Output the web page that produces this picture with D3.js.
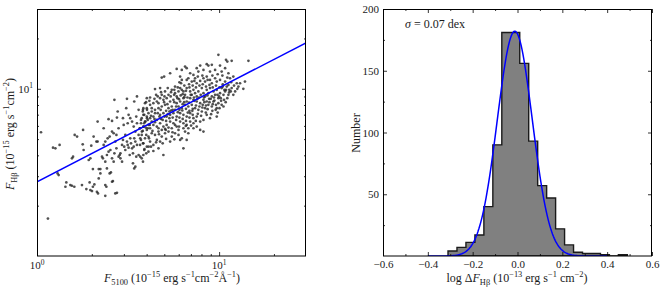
<!DOCTYPE html>
<html><head><meta charset="utf-8">
<script src="https://cdn.jsdelivr.net/npm/d3@7"></script>
<style>
body{margin:0;background:#fff}
text{font-family:"Liberation Serif","DejaVu Serif",serif;fill:#1a1a1a}
</style>
</head><body><svg id="c" width="664" height="290"></svg>
<script>
// ---------- Left panel: scatter (values in dex, log10 of flux) ----------
const logF5100 = [
.022,.060,.088,.101,.124,.192,.198,.113,.119,.161,
.156,.183,.192,.205,.220,.207,.253,.251,.256,.247,
.271,.289,.293,.302,.307,.315,.329,.335,.298,.311,
.326,.333,.284,.293,.307,.339,.348,.339,.348,.333,
.366,.375,.381,.375,.384,.399,.406,.412,.417,.393,
.412,.425,.439,.443,.448,.357,.362,.375,.384,.393,
.403,.412,.421,.425,.430,.436,.366,.375,.388,.399,
.412,.421,.436,.430,.439,.448,.454,.458,.458,.467,
.467,.472,.472,.476,.485,.490,.494,.498,.479,.485,
.494,.498,.503,.509,.512,.516,.522,.527,.531,.534,
.540,.545,.549,.503,.512,.522,.531,.534,.540,.545,
.549,.527,.540,.534,.558,.558,.564,.567,.571,.576,
.582,.586,.589,.595,.600,.604,.608,.613,.615,.619,
.558,.567,.582,.589,.600,.549,.582,.604,
.996,1.038,1.045,1.069,1.161,.932,.941,.960,1.005,.896,
.877,.813,.822,.767,.795,.685,.698,.731,.841,.859,
.886,.914,.950,.978,1.014,1.033,1.051,1.060,1.078,1.115,
1.133,1.142,1.097,1.106,1.069,1.078,1.088,.786,.795,.782,
.822,.831,.850,.868,.877,.896,.914,.923,.932,.950,
.960,.978,.987,1.005,1.020,1.033,1.042,1.051,.648,.621,
.603,.593,.584,.676,.703,.722,.740,.758,.767,.786,
.795,.804,.813,.822,.841,.850,.859,.868,.877,.886,
.905,.914,.923,.932,.941,.950,.960,.969,.978,.987,
.996,1.005,1.014,1.024,1.033,1.014,.987,.996,.969,.960,
.941,.932,.914,.896,.877,.859,.841,.822,.804,.786,
.767,.749,.731,.712,.694,.676,.658,.639,.621,.603,
.612,.630,.648,.667,.685,.703,.722,.740,.758,.777,
.795,.813,.831,.850,.868,.886,.905,.923,.584,.575,
.593,.621,.639,.658,.676,.694,.712,.731,.749,.767,
.786,.804,.822,.841,.859,.877,.896,.914,.932,.950,
.566,.584,.603,.621,.639,.658,.676,.694,.712,.731,
.749,.767,.786,.804,.822,.841,.859,.877,.896,.575,
.593,.612,.630,.648,.667,.685,.703,.722,.740,.758,
.777,.795,.813,.566,.584,.603,.621,.639,.658,.676,
.690,.731,.786,.575,.584,.612,.639,.667,.694,.804,
.831,.914,.987,1.024,1.051,
.758,.777,.800,.818,.837,.855,.873,.892,.910,.928,
.947,.965,.983,1.002,1.020,1.038,1.056,.771,.789,.808,
.826,.844,.862,.881,.899,.917,.936,.954,.972,.991,
1.009,1.027,1.045,.764,.782,.800,.818,.837,.855,.873,
.892,.910,.928,.947,.965,.983,1.002,.685,.698,.716,
.734,.753,.654,.667,.679,.709,.727,.745,.630,.648,
.672,.690,.709,.727,.745,.764,.782,.800,.818,.837,
.855,.603,.588,.612,.630,.648,.667,.685,.703,.722,
.740,.758,.777,.804,.831,.859,
.754,.780,.809,.835,.864,.890,.919,.945,.974,1.000,
1.029,1.055,.773,.798,.828,.853,.883,.908,.937,.963,
.992,.718,.736,.681,.700,.663,.645,.626,.608,.597,
.634,.670,.707,.744,.780,.817,.846,.872,.901,.927,
.956,.981,1.011,1.036,1.064,1.082,1.100,1.066,1.045,1.018,
.992,.963,.937,.908,.883,.864,.835,.809,.791,.773,
.754,.736,.718,.700,.681,.663,.645,.617,.599,.581,
.571,.581,.571,.590,.626,.654,.709,.754,.822
];
const logFHb = [
.740,.224,.648,.644,.664,.584,.594,.494,.484,.440,
.414,.424,.420,.414,.714,.724,.754,.668,.634,.424,
.400,.440,.394,.388,.414,.428,.384,.374,.660,.714,
.684,.684,.574,.584,.520,.520,.520,.464,.494,.804,
.764,.424,.414,.360,.524,.494,.500,.444,.448,.818,
.808,.934,.828,.864,.764,.594,.584,.564,.604,.624,
.634,.584,.564,.614,.684,.644,.664,.684,.704,.714,
.744,.734,.724,.374,.378,.594,.604,.614,.584,.664,
.564,.694,.824,.784,.724,.884,.940,.794,.654,.634,
.684,.664,.648,.604,.704,.674,.644,.614,.654,.704,
.684,.594,.664,.844,.824,.804,.774,.924,.744,.834,
.794,.554,.534,.524,.874,.724,.764,.704,.814,.744,
.674,.774,.844,.804,.724,.824,.764,.654,.704,.784,
.604,.594,.564,.634,.614,.954,.874,.874,
1.203,1.173,1.163,1.167,1.167,1.147,1.139,1.143,1.139,1.139,
1.123,1.133,1.123,1.119,1.113,1.067,1.073,1.093,1.093,1.083,
1.103,1.113,1.103,1.113,1.103,1.123,1.093,1.063,1.073,1.033,
1.000,1.043,1.033,1.013,1.004,.964,.984,1.073,1.053,1.039,
1.053,1.063,1.043,1.063,1.033,1.047,1.063,1.043,1.073,1.053,
1.033,1.063,1.043,1.053,1.027,1.043,1.013,1.023,.998,.948,
.944,.914,.884,1.004,.984,.964,.994,.974,.954,1.004,
.994,.984,.964,1.004,.984,.964,.994,.974,.954,.984,
1.004,.974,.954,.994,.974,1.004,.954,.984,.964,.994,
.944,.974,1.004,.964,.984,.904,.884,.914,.924,.894,
.904,.924,.934,.914,.924,.934,.944,.924,.944,.924,
.914,.934,.924,.944,.934,.944,.924,.914,.904,.884,
.854,.864,.874,.884,.894,.904,.884,.894,.874,.894,
.884,.904,.894,.904,.884,.874,.864,.884,.844,.824,
.804,.824,.834,.814,.844,.854,.834,.844,.854,.834,
.854,.844,.834,.854,.824,.834,.804,.814,.844,.824,
.764,.774,.754,.764,.784,.774,.794,.774,.784,.804,
.794,.774,.804,.794,.784,.804,.794,.774,.754,.724,
.704,.714,.734,.724,.744,.714,.734,.744,.714,.734,
.724,.704,.744,.664,.674,.654,.684,.664,.694,.684,
.674,.684,.694,.584,.604,.624,.628,.644,.604,.644,
.734,.744,.834,.894,.964,
1.013,.984,.968,.988,1.008,1.019,1.008,1.019,1.027,1.013,
1.023,1.008,1.019,1.008,1.013,.994,.994,.944,.960,.920,
.948,.964,.948,.940,.964,.948,.960,.940,.948,.964,
.944,.934,.944,.894,.874,.908,.880,.868,.880,.900,
.894,.904,.900,.920,.908,.904,.884,.964,.920,.908,
.954,.964,.964,.914,.874,.868,.864,.874,.884,.854,
.834,.814,.808,.824,.828,.814,.828,.820,.808,.828,
.844,.834,.794,.784,.804,.800,.764,.754,.760,.768,
.764,.784,.754,.764,.764,.764,
.920,.938,.950,.918,.928,.948,.920,.940,.930,.954,
.993,.978,.860,.870,.858,.868,.850,.888,.878,.868,
.858,.848,.870,.820,.834,.854,.820,.838,.814,.768,
.748,.728,.754,.740,.774,.778,.780,.808,.838,.858,
.848,.874,.928,.920,.984,1.019,1.000,1.039,1.067,1.079,
1.087,1.079,1.053,1.079,1.073,1.047,1.027,1.019,1.033,1.008,
.994,.980,1.004,.954,.980,.954,.940,.928,.920,.864,
.794,.748,.694,.640,.654,.680,.700,.698,.694
];
const fitIntercept = 0.443;   // log F_Hb at F5100 = 1
const fitSlope = 0.563;
const logMajor = [1, 10];
const logMinor = [2,3,4,5,6,7,8,9,20];

// ---------- Right panel: histogram ----------
const binEdges = [-0.31,-0.27,-0.23,-0.19,-0.15,-0.11,-0.07,-0.03,0.01,0.05,0.09,0.13,0.17,0.21,0.25,0.29,0.33,0.37,0.41,0.45,0.49];
const binCounts = [4,7,11,17,40,90,181,181,156,93,57,47,22,9,3,2,2,1,0,1];
const gaussMu = -0.012, gaussSigma = 0.078, gaussAmp = 182;
const gaussRange = [-0.4, 0.4];
const histXMajor = [-0.6,-0.4,-0.2,0.0,0.2,0.4,0.6];
const histXMinor = [-0.5,-0.3,-0.1,0.1,0.3,0.5];
const histYMajor = [50,100,150,200];
const histYMinor = [25,75,125,175];
const sigmaLabel = "0.07 dex";

const svg = d3.select("#c");
const L = {x0:37, x1:306, y0:9, y1:256};
const R = {x0:383, x1:652, y0:9, y1:256};

const xL = d3.scaleLog().domain([1,30]).range([L.x0,L.x1]);
const yL = d3.scaleLog().domain([1,30]).range([L.y1,L.y0]);
const xR = d3.scaleLinear().domain([-0.6,0.6]).range([R.x0,R.x1]);
const yR = d3.scaleLinear().domain([0,200]).range([R.y1,R.y0]);

function rich(parent, segs, size){
  const t = parent.append("text").attr("font-size", size);
  let shift = 0;
  segs.forEach(([str, kind, it]) => {
    const target = kind==="sup" ? -0.38*size : kind==="sub" ? 0.22*size : 0;
    const ts = t.append("tspan").text(str).attr("dy", target - shift);
    if (kind) ts.attr("font-size", size*0.7);
    if (it) ts.attr("font-style","italic");
    shift = target;
  });
  return t;
}

const defs = svg.append("defs");
defs.append("clipPath").attr("id","clipL").append("rect")
  .attr("x",L.x0).attr("y",L.y0).attr("width",L.x1-L.x0).attr("height",L.y1-L.y0);
defs.append("clipPath").attr("id","clipR").append("rect")
  .attr("x",R.x0).attr("y",R.y0).attr("width",R.x1-R.x0).attr("height",R.y1-R.y0);

// ===== Left panel =====
const gL = svg.append("g").attr("clip-path","url(#clipL)");
gL.selectAll("circle").data(logF5100.map((v,i)=>[v, logFHb[i]])).join("circle")
  .attr("cx", d => xL(Math.pow(10,d[0])))
  .attr("cy", d => yL(Math.pow(10,d[1])))
  .attr("r", 1.35)
  .attr("fill", "#262626")
  .attr("fill-opacity", 0.8);

const fitX = [1, 30];
gL.append("path")
  .attr("d", d3.line().x(d=>xL(d)).y(d=>yL(Math.pow(10, fitIntercept + fitSlope*Math.log10(d))))(fitX))
  .attr("fill","none").attr("stroke","#0000ff").attr("stroke-width",1.5);

function tickAxes(sx, sy, box, xMaj, xMin, yMaj, yMin){
  const mk = (axis, tr, len) => {
    const g = svg.append("g").attr("transform", tr)
      .call(axis.tickSizeInner(len).tickSizeOuter(0).tickFormat(""));
    g.select(".domain").remove();
    g.selectAll("line").attr("stroke","#000").attr("stroke-width",0.8);
  };
  mk(d3.axisBottom(sx).tickValues(xMaj), `translate(0,${box.y1})`, -4);
  mk(d3.axisBottom(sx).tickValues(xMin), `translate(0,${box.y1})`, -2);
  mk(d3.axisTop(sx).tickValues(xMaj), `translate(0,${box.y0})`, -4);
  mk(d3.axisTop(sx).tickValues(xMin), `translate(0,${box.y0})`, -2);
  mk(d3.axisLeft(sy).tickValues(yMaj), `translate(${box.x0},0)`, -4);
  mk(d3.axisLeft(sy).tickValues(yMin), `translate(${box.x0},0)`, -2);
  mk(d3.axisRight(sy).tickValues(yMaj), `translate(${box.x1},0)`, -4);
  mk(d3.axisRight(sy).tickValues(yMin), `translate(${box.x1},0)`, -2);
}
function frame(box){
  const f = svg.append("g").attr("stroke","#000").attr("stroke-width",1).attr("fill","none");
  f.append("line").attr("x1",box.x0+0.5).attr("x2",box.x0+0.5).attr("y1",box.y0).attr("y2",box.y1);
  f.append("line").attr("x1",box.x1-0.5).attr("x2",box.x1-0.5).attr("y1",box.y0).attr("y2",box.y1);
  f.append("line").attr("x1",box.x0).attr("x2",box.x1).attr("y1",box.y0+0.5).attr("y2",box.y0+0.5);
  f.append("line").attr("x1",box.x0).attr("x2",box.x1).attr("y1",box.y1).attr("y2",box.y1);
}

tickAxes(xL, yL, L, logMajor, logMinor, [10], logMinor);
frame(L);

const powLabel = (x, y, p, anchor) => {
  const t = svg.append("text").attr("x",x).attr("y",y).attr("font-size",11).attr("text-anchor",anchor);
  t.append("tspan").text("10");
  t.append("tspan").attr("dy",-4.5).attr("font-size",7.5).text(p);
};
logMajor.forEach(v => powLabel(xL(v), 269, Math.round(Math.log10(v)), "middle"));
powLabel(L.x0-4, yL(10)+4, 1, "end");

rich(svg, [["F",0,1],["5100","sub"],[" (10"],["−15","sup"],[" erg s"],["−1","sup"],["cm"],["−2","sup"],["Å"],["−1","sup"],[")"]], 12)
  .attr("x", 172).attr("y", 282).attr("text-anchor","middle");
rich(svg, [["F",0,1],["Hβ","sub"],[" (10"],["−15","sup"],[" erg s"],["−1","sup"],["cm"],["−2","sup"],[")"]], 12)
  .attr("text-anchor","middle").attr("transform","translate(14,134) rotate(-90)");

// ===== Right panel =====
const gR = svg.append("g").attr("clip-path","url(#clipR)");
const histPts = [[binEdges[0],0]];
binCounts.forEach((c,i)=>{ histPts.push([binEdges[i],c]); histPts.push([binEdges[i+1],c]); });
histPts.push([binEdges[binEdges.length-1],0]);
gR.append("path")
  .attr("d", d3.line().x(d=>xR(d[0])).y(d=>yR(d[1]))(histPts) + "Z")
  .attr("fill","#808080").attr("stroke","#1a1a1a").attr("stroke-width",1.4).attr("stroke-linejoin","miter");

const gx = d3.range(gaussRange[0], gaussRange[1]+1e-9, 0.004);
gR.append("path")
  .attr("d", d3.line().x(d=>xR(d)).y(d=>yR(gaussAmp*Math.exp(-0.5*Math.pow((d-gaussMu)/gaussSigma,2))))(gx))
  .attr("fill","none").attr("stroke","#0000ff").attr("stroke-width",1.5);

tickAxes(xR, yR, R, histXMajor, histXMinor, histYMajor, histYMinor);
frame(R);

const axB = svg.append("g").attr("transform",`translate(0,${R.y1})`)
  .call(d3.axisBottom(xR).tickValues(histXMajor).tickSize(0).tickPadding(4).tickFormat(d3.format(".1f")));
axB.select(".domain").remove();
axB.attr("font-family",null).attr("font-size",null);
axB.selectAll("text").attr("font-size",11).attr("fill","#1a1a1a");
const axLft = svg.append("g").attr("transform",`translate(${R.x0},0)`)
  .call(d3.axisLeft(yR).tickValues(histYMajor).tickSize(0).tickPadding(4).tickFormat(d3.format("d")));
axLft.select(".domain").remove();
axLft.attr("font-family",null).attr("font-size",null);
axLft.selectAll("text").attr("font-size",11).attr("fill","#1a1a1a");

rich(svg, [["σ",0,1],[" = "+sigmaLabel]], 12).attr("x", 405).attr("y", 28);

rich(svg, [["log Δ"],["F",0,1],["Hβ","sub"],[" (10"],["−13","sup"],[" erg s"],["−1","sup"],[" cm"],["−2","sup"],[")"]], 12)
  .attr("x", 517).attr("y", 282).attr("text-anchor","middle");
svg.append("text").attr("font-size",12).attr("text-anchor","middle")
  .attr("transform","translate(360,133) rotate(-90)").text("Number");
</script>
</body></html>
